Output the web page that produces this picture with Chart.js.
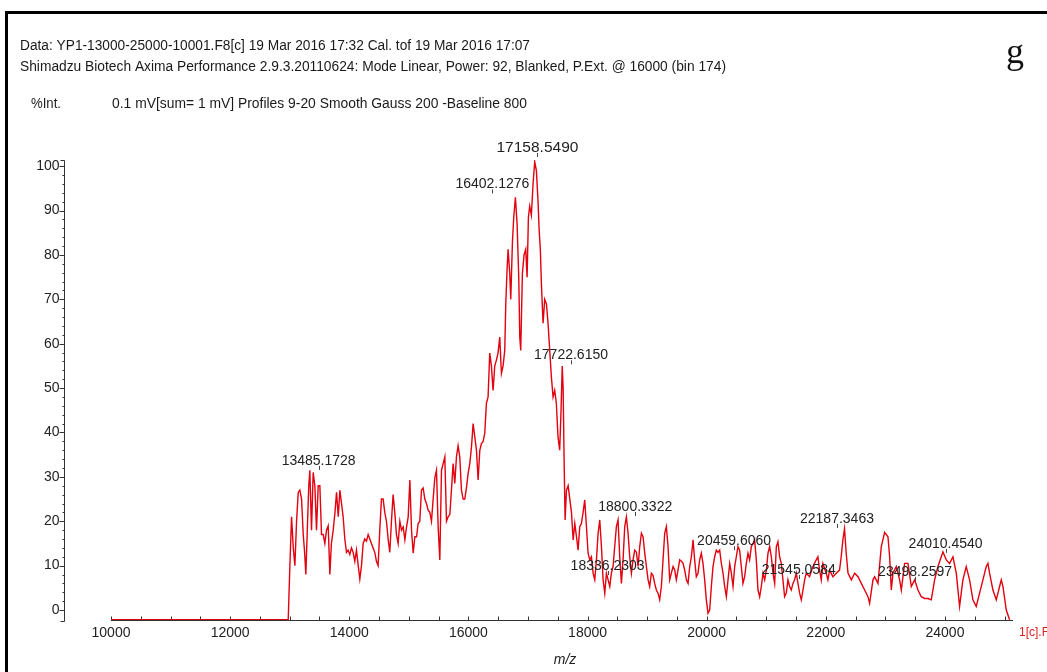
<!DOCTYPE html>
<html>
<head>
<meta charset="utf-8">
<title>Spectrum</title>
<script src="https://cdn.jsdelivr.net/npm/chart.js@4/dist/chart.umd.min.js"></script>
<style>
    html, body { margin: 0; padding: 0; background: #ffffff; }
    #wrap { position: relative; width: 1047px; height: 672px; overflow: hidden; }
</style>
</head>
<body>
<div id="wrap"><canvas id="spectrumCanvas" width="1047" height="672"></canvas></div>
<script>
// m/z of each profile point
var mzValues = [
    10000, 12975, 13003, 13031, 13060, 13087, 13115, 13143, 13170, 13199,
    13227, 13250, 13271, 13300, 13320, 13338, 13366, 13394, 13422, 13450,
    13478, 13506, 13534, 13562, 13590, 13618, 13646, 13674, 13700, 13730,
    13760, 13786, 13815, 13842, 13870, 13897, 13925, 13953, 13980, 14009,
    14037, 14065, 14093, 14121, 14150, 14177, 14205, 14233, 14260, 14289,
    14317, 14345, 14372, 14400, 14428, 14456, 14484, 14512, 14540, 14568,
    14596, 14624, 14652, 14680, 14708, 14736, 14764, 14792, 14820, 14849,
    14877, 14905, 14933, 14961, 14989, 15017, 15045, 15073, 15101, 15129,
    15156, 15184, 15212, 15240, 15268, 15296, 15324, 15352, 15380, 15408,
    15436, 15464, 15492, 15520, 15548, 15576, 15604, 15632, 15660, 15688,
    15715, 15743, 15771, 15799, 15827, 15855, 15883, 15911, 15939, 15967,
    15995, 16023, 16051, 16079, 16107, 16135, 16163, 16191, 16219, 16247,
    16274, 16302, 16330, 16358, 16386, 16414, 16442, 16470, 16498, 16526,
    16554, 16582, 16610, 16627, 16649, 16666, 16694, 16711, 16739, 16761,
    16789, 16817, 16845, 16862, 16878, 16906, 16934, 16962, 16985, 17007,
    17029, 17057, 17085, 17113, 17141, 17169, 17186, 17208, 17225, 17253,
    17281, 17309, 17337, 17365, 17393, 17421, 17449, 17476, 17504, 17532,
    17555, 17575, 17590, 17605, 17623, 17646, 17674, 17702, 17730, 17758,
    17786, 17814, 17841, 17869, 17897, 17925, 17953, 17981, 18009, 18037,
    18065, 18093, 18121, 18149, 18177, 18205, 18233, 18261, 18289, 18317,
    18345, 18373, 18400, 18428, 18456, 18484, 18512, 18540, 18568, 18596,
    18624, 18652, 18680, 18708, 18736, 18764, 18792, 18820, 18848, 18876,
    18904, 18932, 18960, 18988, 19016, 19043, 19071, 19099, 19127, 19155,
    19183, 19211, 19239, 19267, 19295, 19323, 19351, 19379, 19407, 19435,
    19463, 19490, 19518, 19547, 19575, 19603, 19631, 19659, 19687, 19715,
    19743, 19771, 19798, 19826, 19854, 19882, 19910, 19938, 19966, 19994,
    20022, 20050, 20078, 20106, 20134, 20162, 20190, 20218, 20246, 20274,
    20302, 20330, 20358, 20386, 20414, 20442, 20470, 20497, 20525, 20553,
    20581, 20609, 20637, 20665, 20693, 20721, 20749, 20777, 20805, 20833,
    20861, 20889, 20917, 20945, 20973, 21001, 21029, 21057, 21085, 21113,
    21141, 21169, 21196, 21224, 21252, 21280, 21308, 21336, 21364, 21392,
    21420, 21448, 21476, 21504, 21532, 21560, 21588, 21616, 21644, 21672,
    21727, 21783, 21839, 21867, 21895, 21923, 21951, 22007, 22035, 22063,
    22119, 22175, 22230, 22258, 22286, 22314, 22342, 22372, 22428, 22484,
    22540, 22596, 22651, 22707, 22735, 22791, 22819, 22875, 22931, 22987,
    23043, 23071, 23099, 23127, 23183, 23239, 23267, 23323, 23379, 23435,
    23491, 23547, 23602, 23658, 23714, 23770, 23826, 23882, 23938, 23966,
    24022, 24078, 24134, 24190, 24245, 24301, 24357, 24413, 24469, 24525,
    24581, 24637, 24693, 24721, 24749, 24805, 24861, 24917, 24945, 24973,
    25029, 25085
];

// %Int. at each of those points
var intensityValues = [
    -2.2, -2.2, 10, 21, 14, 10, 20, 26.5, 27, 25,
    17, 13, 8, 20, 28, 31.5, 18, 31, 28, 18,
    28, 28, 17, 17, 15, 18, 19, 8, 15, 18,
    22, 26.5, 21, 27, 24, 21, 16, 13, 13.5, 12.5,
    14, 13, 11, 13.5, 10, 7, 10, 15, 16, 15.5,
    17, 16, 15, 14, 13, 11, 10, 18, 25, 25,
    22, 20, 16, 13, 20, 26, 22, 17, 15, 20,
    18, 18.7, 15.8, 18.7, 21, 29.3, 18, 12.8, 16.5, 16.5,
    19.5, 20, 27, 27.5, 25, 24, 22.5, 22, 20, 25,
    29.8, 31.5, 18.7, 11.3, 31.5, 33, 34.5, 20, 21, 21.5,
    27, 33, 28.5, 34.5, 37, 34.5, 27, 25, 25, 27.5,
    30.8, 33, 36.7, 42, 39, 36, 29.3, 36, 37.5, 38,
    39.8, 46.6, 48, 57.9, 55, 49.5, 55, 56.3, 58, 61.5,
    53.3, 55, 58.5, 69, 76.8, 81.3, 75.8, 70, 83, 88.5,
    93, 87, 75, 61.5, 58.5, 75.8, 80, 81.3, 75, 88.5,
    91, 89, 96, 101, 99, 92, 86, 81, 73.6, 64.6,
    70, 69, 64.6, 58.5, 52.5, 48, 49.5, 46.6, 39, 36,
    45, 55, 50, 35, 20.3, 27, 28, 25, 22, 15.8,
    19.5, 16.5, 13.5, 18.8, 19.5, 22, 24.8, 18.8, 12.8, 11.3,
    12, 8.3, 6.8, 11.3, 17.3, 20.3, 14.3, 6.8, 3.8, 8.3,
    6.8, 5.3, 8.3, 9.8, 14.3, 18.8, 20.3, 12, 6, 11.3,
    18.8, 21, 17.3, 12, 8.3, 11.3, 13.5, 13, 9.8, 14.3,
    17.3, 16.5, 12.8, 9.8, 6.8, 5.3, 8.3, 7.8, 6, 4.5,
    3.8, 2.3, 5.3, 11.3, 17.3, 18.8, 14.3, 6.8, 8.3, 9.8,
    9, 6.8, 9, 11.3, 11, 10.5, 9, 6.8, 6, 9.8,
    12, 15.8, 11.3, 7.5, 8.3, 11.3, 12.8, 10.5, 6.8, 2.3,
    -0.7, 0, 5.3, 9.8, 12, 13.5, 13, 13.5, 10.5, 8.3,
    5.3, 3, 6.8, 10.5, 8.3, 5.3, 9.8, 12, 14.3, 13.5,
    9.8, 6, 7.5, 10.5, 12.8, 11.3, 14.3, 15, 15.8, 11.3,
    4.5, 3, 5.3, 8.3, 6.8, 9, 12.8, 14.3, 12, 8.3,
    6, 14.3, 15.4, 12, 10.5, 6.8, 3, 3.8, 6.8, 5.3,
    4.5, 6, 6.8, 8.3, 6, 3.8, 2.3, 4.5, 6.8, 8.3,
    7.5, 9.8, 11.3, 12, 9, 6.8, 10.5, 8.3, 6.8, 9,
    7.5, 8.3, 9, 12, 15.8, 18.3, 12.8, 8.3, 6.8, 8.3,
    7.5, 6, 4.5, 3, 1.5, 6.8, 7.5, 6, 14.3, 17.5,
    16.5, 12, 4.5, 8.3, 9.8, 6.8, 4.5, 10.5, 10.5, 5.3,
    6.8, 4.5, 3, 2.6, 2.6, 2.3, 6.8, 9.8, 12, 13.1,
    11.3, 10.5, 12, 8.3, 0.8, 6.8, 9.8, 6.8, 2.3, 0.8,
    3.8, 6.8, 9.8, 10.5, 8.3, 4.5, 2.3, 5.3, 6.8, 5.3,
    0, -2.2
];

// labelled peaks: m/z, text, and the %Int. of the text baseline
var peakMz = [13485.1728, 16402.1276, 17158.5490, 17722.6150, 18336.2303, 18800.3322,
    20459.6060, 21545.0584, 22187.3463, 23498.2597, 24010.4540];
var peakLabels = ['13485.1728', '16402.1276', '17158.5490', '17722.6150', '18336.2303', '18800.3322',
    '20459.6060', '21545.0584', '22187.3463', '23498.2597', '24010.4540'];
var peakLabelHeights = [32.7, 95.0, 103.2, 56.5, 9.0, 22.3, 14.6, 8.1, 19.6, 7.7, 14.0];

var xTickValues = [10000, 12000, 14000, 16000, 18000, 20000, 22000, 24000];
var xMinorStep = 500;
var xAxisStart = 10000;
var xAxisEnd = 25000;
var yTickValues = [0, 10, 20, 30, 40, 50, 60, 70, 80, 90, 100];
var yMinorStep = 2;

var headerLines = [
    'Data: YP1-13000-25000-10001.F8[c] 19 Mar 2016 17:32 Cal. tof 19 Mar 2016 17:07',
    'Shimadzu Biotech Axima Performance 2.9.3.20110624: Mode Linear, Power: 92, Blanked, P.Ext. @ 16000 (bin 174)'
];
var intLabel = '%Int.';
var profileLabel = '0.1 mV[sum= 1 mV] Profiles 9-20 Smooth Gauss 200 -Baseline 800';

var SANS = '"Liberation Sans", Arial, sans-serif';
var NARROW = '"Liberation Sans Narrow", "Arial Narrow", "Liberation Sans", sans-serif';

// draw text squeezed/stretched to a given width
function fitText(ctx, text, x, y, width, font) {
    ctx.save();
    ctx.font = font;
    var w = ctx.measureText(text).width;
    ctx.translate(x, y);
    ctx.scale(width / w, 1);
    ctx.textAlign = 'left';
    ctx.textBaseline = 'alphabetic';
    ctx.fillText(text, 0, 0);
    ctx.restore();
}

var spectrumDecor = {
    id: 'spectrumDecor',
    beforeDatasetsDraw: function (chart) {
        var ctx = chart.ctx;
        var xs = chart.scales.x;
        var ys = chart.scales.y;
        var area = chart.chartArea;
        var v, px, py, len;

        ctx.save();

        // page frame
        ctx.fillStyle = '#000';
        ctx.fillRect(5, 11, 1042, 3);
        ctx.fillRect(5, 11, 3, 661);

        ctx.strokeStyle = '#333';
        ctx.lineWidth = 1;

        // y axis with brackets at both ends
        var ax = Math.round(area.left) + 0.5;
        var top = Math.round(area.top) + 0.5;
        var bottom = Math.round(area.bottom) + 1.5;
        ctx.beginPath();
        ctx.moveTo(ax - 4, top);
        ctx.lineTo(ax, top);
        ctx.lineTo(ax, bottom);
        ctx.lineTo(ax - 4, bottom);
        ctx.stroke();

        for (v = yTickValues[0]; v <= yTickValues[yTickValues.length - 1]; v += yMinorStep) {
            py = Math.round(ys.getPixelForValue(v)) + 0.5;
            len = (v % 10 === 0) ? 5 : 2;
            ctx.beginPath();
            ctx.moveTo(ax - len, py);
            ctx.lineTo(ax, py);
            ctx.stroke();
        }

        ctx.fillStyle = '#222';
        ctx.font = '14px ' + SANS;
        ctx.textAlign = 'right';
        ctx.textBaseline = 'middle';
        yTickValues.forEach(function (t) {
            ctx.fillText(String(t), ax - 5, ys.getPixelForValue(t));
        });

        // x axis
        var ay = Math.round(area.bottom) + 0.5;
        ctx.beginPath();
        ctx.moveTo(xs.getPixelForValue(xAxisStart), ay);
        ctx.lineTo(area.right, ay);
        ctx.stroke();

        for (v = xAxisStart; v <= xAxisEnd; v += xMinorStep) {
            px = Math.round(xs.getPixelForValue(v)) + 0.5;
            ctx.beginPath();
            ctx.moveTo(px, ay);
            ctx.lineTo(px, ay - 4);
            ctx.stroke();
        }

        ctx.textAlign = 'center';
        ctx.textBaseline = 'top';
        xTickValues.forEach(function (t) {
            ctx.fillText(String(t), xs.getPixelForValue(t), ay + 6);
        });

        ctx.font = 'italic 14px ' + SANS;
        ctx.textBaseline = 'middle';
        ctx.fillText('m/z', (xs.getPixelForValue(xAxisStart) + area.right) / 2 + 3, 660);

        ctx.fillStyle = '#e02020';
        ctx.font = '12px ' + SANS;
        ctx.textAlign = 'left';
        ctx.fillText('1[c].F8', area.right + 6, ay + 12);

        ctx.restore();
    },
    afterDatasetsDraw: function (chart) {
        var ctx = chart.ctx;
        var xs = chart.scales.x;
        var ys = chart.scales.y;

        ctx.save();
        ctx.fillStyle = '#1a1a1a';
        fitText(ctx, headerLines[0], 20, 50, 510, '14px ' + NARROW);
        fitText(ctx, headerLines[1], 20, 71, 706, '14px ' + NARROW);
        fitText(ctx, intLabel, 31, 108, 30, '14px ' + NARROW);
        fitText(ctx, profileLabel, 112, 108, 415, '14px ' + NARROW);

        ctx.font = '36px "Liberation Serif", "Times New Roman", serif';
        ctx.textAlign = 'left';
        ctx.textBaseline = 'alphabetic';
        ctx.fillStyle = '#111';
        ctx.fillText('g', 1006, 63);

        // peak annotations
        var biggest = peakLabelHeights.indexOf(Math.max.apply(null, peakLabelHeights));
        ctx.strokeStyle = '#444';
        ctx.lineWidth = 1;
        ctx.fillStyle = '#222';
        ctx.textAlign = 'center';
        for (var i = 0; i < peakMz.length; i++) {
            var px = xs.getPixelForValue(peakMz[i]);
            var py = ys.getPixelForValue(peakLabelHeights[i]);
            ctx.font = (i === biggest ? '15.5px ' : '14px ') + SANS;
            ctx.fillText(peakLabels[i], px, py);
            ctx.beginPath();
            ctx.moveTo(Math.round(px) + 0.5, py + 1);
            ctx.lineTo(Math.round(px) + 0.5, py + 5);
            ctx.stroke();
        }
        ctx.restore();
    }
};

var points = mzValues.map(function (mz, i) {
    return { x: mz, y: intensityValues[i] };
});

var ctx = document.getElementById('spectrumCanvas').getContext('2d');

var chart = new Chart(ctx, {
    type: 'line',
    data: {
        datasets: [{
            label: '1[c].F8',
            data: points,
            borderColor: '#e3000f',
            borderWidth: 1.4,
            pointRadius: 0,
            tension: 0,
            fill: false
        }]
    },
    options: {
        responsive: false,
        animation: false,
        devicePixelRatio: 1,
        layout: {
            padding: { left: 64, right: 34, top: 160, bottom: 52 }
        },
        plugins: {
            legend: { display: false },
            tooltip: { enabled: false }
        },
        scales: {
            x: {
                type: 'linear',
                display: false,
                min: 9211,
                max: 25142
            },
            y: {
                type: 'linear',
                display: false,
                min: -2.25,
                max: 101.4
            }
        }
    },
    plugins: [spectrumDecor]
});
</script>
</body>
</html>
